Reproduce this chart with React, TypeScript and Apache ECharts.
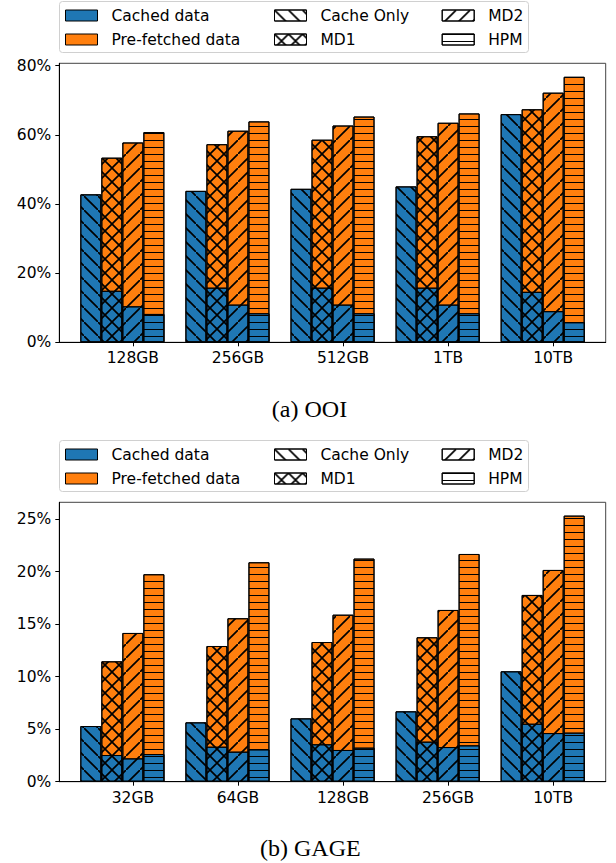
import React, { useEffect, useRef } from 'react';
import * as echarts from 'echarts';

// ---------- data ----------
const ooiCategories = ['128GB', '256GB', '512GB', '1TB', '10TB'];
const gageCategories = ['32GB', '64GB', '128GB', '256GB', '10TB'];

const ooiCacheOnly = [42.8, 43.8, 44.4, 45.1, 66.0];
const ooiMd1Cached = [14.9, 15.8, 15.8, 15.8, 14.6];
const ooiMd1Total = [53.4, 57.3, 58.6, 59.6, 67.4];
const ooiMd2Cached = [10.4, 10.9, 10.9, 10.9, 9.0];
const ooiMd2Total = [57.8, 61.2, 62.7, 63.5, 72.2];
const ooiHpmCached = [8.2, 8.4, 8.4, 8.4, 5.8];
const ooiHpmTotal = [60.8, 63.9, 65.3, 66.2, 76.8];

const gageCacheOnly = [5.3, 5.65, 6.03, 6.7, 10.51];
const gageMd1Cached = [2.54, 3.33, 3.56, 3.81, 5.52];
const gageMd1Total = [11.46, 12.92, 13.3, 13.75, 17.78];
const gageMd2Cached = [2.22, 2.86, 3.02, 3.3, 4.63];
const gageMd2Total = [14.16, 15.56, 15.9, 16.35, 20.16];
const gageHpmCached = [2.63, 3.08, 3.24, 3.46, 4.67];
const gageHpmTotal = [19.75, 20.89, 21.24, 21.68, 25.33];

const ooiYTicks = [0, 20, 40, 60, 80];
const gageYTicks = [0, 5, 10, 15, 20, 25];
const ooiYMax = 80.7;
const gageYMax = 26.6;

const methodNames = ['Cache Only', 'MD1', 'MD2', 'HPM'];
const dataNames = ['Cached data', 'Pre-fetched data'];

// ---------- styles ----------
const BLUE = '#1f77b4';
const ORANGE = '#ff7f0e';
const FONT = 'DejaVu Sans';

const diagBack = 'path://M0,0L1.2,0L14,12.8L14,14L12.8,14L0,1.2Z';
const diagFwd = 'path://M12.8,0L14,0L14,1.2L1.2,14L0,14L0,12.8Z';
const cross =
  'path://M0,0L1.2,0L14,12.8L14,14L12.8,14L0,1.2Z M12.8,0L14,0L14,1.2L1.2,14L0,14L0,12.8Z';

const decals: any[] = [
  { symbol: diagBack, dashArrayX: [14, 0], dashArrayY: [14, 0], symbolSize: 1, color: '#000', symbolKeepAspect: false },
  { symbol: cross, dashArrayX: [14, 0], dashArrayY: [14, 0], symbolSize: 1, color: '#000', symbolKeepAspect: false },
  { symbol: diagFwd, dashArrayX: [14, 0], dashArrayY: [14, 0], symbolSize: 1, color: '#000', symbolKeepAspect: false },
  { symbol: 'rect', dashArrayX: [1, 0], dashArrayY: [1, 6], symbolSize: 1, color: '#000' },
];

const offsets = [-0.4, -0.2, 0, 0.2];

function bar(gi: number, name: string, data: number[][], color: string, decal: any) {
  return {
    type: 'bar',
    name,
    xAxisIndex: gi,
    yAxisIndex: gi,
    barWidth: 21,
    barGap: '-100%',
    silent: true,
    data,
    itemStyle: { color, borderColor: '#000', borderWidth: 1, decal },
  };
}

// Total bar (orange) is drawn first, the cached part (blue) on top of it,
// which looks the same as a stacked bar.
function buildSeries(gi: number, cached: number[][], totals: (number[] | null)[]) {
  const out: any[] = [];
  cached.forEach((arr, k) => {
    const off = offsets[k];
    const tot = totals[k];
    if (tot) {
      out.push(bar(gi, `g${gi}m${k}total`, tot.map((t, i) => [i + off, t]), ORANGE, decals[k]));
    }
    out.push(bar(gi, `g${gi}m${k}cached`, arr.map((v, i) => [i + off, v]), BLUE, decals[k]));
  });
  return out;
}

function xAxis(gi: number, cats: string[]) {
  const vals = cats.map((_, i) => i);
  return {
    type: 'value',
    gridIndex: gi,
    min: -0.7,
    max: 4.5,
    splitLine: { show: false },
    axisLine: { show: true, onZero: false, lineStyle: { color: '#000', width: 1 } },
    axisTick: { show: true, customValues: vals, length: 4, lineStyle: { color: '#000' } },
    axisLabel: {
      customValues: vals,
      formatter: (v: number) => cats[Math.round(v)] ?? '',
      fontSize: 15.5,
      fontFamily: FONT,
      color: '#000',
      margin: 8,
    },
  };
}

function yAxis(gi: number, ticks: number[], max: number) {
  return {
    type: 'value',
    gridIndex: gi,
    min: 0,
    max,
    splitLine: { show: false },
    axisLine: { show: true, onZero: false, lineStyle: { color: '#000', width: 1 } },
    axisTick: { show: true, customValues: ticks, length: 4, lineStyle: { color: '#000' } },
    axisLabel: {
      customValues: ticks,
      formatter: (v: number) => `${v}%`,
      fontSize: 15.5,
      fontFamily: FONT,
      color: '#000',
      margin: 8,
    },
  };
}

function legends(top: number) {
  const base = {
    orient: 'vertical',
    selectedMode: false,
    icon: 'rect',
    itemWidth: 32,
    itemHeight: 11,
    itemGap: 8,
    padding: 0,
    top,
    itemStyle: { borderWidth: 1, borderColor: '#000' },
    textStyle: { fontSize: 15.5, fontFamily: FONT, color: '#000', padding: [0, 0, 0, 9], lineHeight: 15 },
  };
  return [
    { ...base, left: 65, data: [dataNames[0], dataNames[1]] },
    { ...base, left: 274, data: [methodNames[0], methodNames[1]] },
    { ...base, left: 441.7, data: [methodNames[2], methodNames[3]] },
  ];
}

export default function App() {
  const ref = useRef<HTMLDivElement>(null);
  useEffect(() => {
    document.body.style.margin = '0';
    if (!ref.current) return;
    const chart = echarts.init(ref.current, null, { renderer: 'svg' });

    const legendSeries: any[] = [
      bar(0, dataNames[0], [], BLUE, undefined),
      bar(0, dataNames[1], [], ORANGE, undefined),
      ...methodNames.map((n, k) => bar(0, n, [], '#fff', decals[k])),
    ];

    const series = [
      ...legendSeries,
      ...buildSeries(0, [ooiCacheOnly, ooiMd1Cached, ooiMd2Cached, ooiHpmCached], [null, ooiMd1Total, ooiMd2Total, ooiHpmTotal]),
      ...buildSeries(1, [gageCacheOnly, gageMd1Cached, gageMd2Cached, gageHpmCached], [null, gageMd1Total, gageMd2Total, gageHpmTotal]),
    ];

    const frame = (y: number) => ({
      type: 'rect',
      z: -1,
      shape: { x: 59.5, y, width: 469, height: 51, r: 3 },
      style: { fill: '#fff', stroke: '#d0d0d0', lineWidth: 1 },
    });
    const caption = (text: string, x: number, y: number) => ({
      type: 'text',
      x,
      y,
      style: {
        text,
        font: '24px "Liberation Serif"',
        fill: '#000',
        textAlign: 'center',
        align: 'center',
        textVerticalAlign: 'middle',
        verticalAlign: 'middle',
      },
    });

    chart.setOption({
      animation: false,
      backgroundColor: '#fff',
      grid: [
        { left: 59.3, top: 63.3, width: 546.4, height: 279, show: true, borderColor: '#444', borderWidth: 1 },
        { left: 59.3, top: 502.3, width: 546.4, height: 279.4, show: true, borderColor: '#444', borderWidth: 1 },
      ],
      xAxis: [xAxis(0, ooiCategories), xAxis(1, gageCategories)],
      yAxis: [yAxis(0, ooiYTicks, ooiYMax), yAxis(1, gageYTicks, gageYMax)],
      legend: [...legends(7.5), ...legends(446.5)],
      graphic: [frame(1.5), frame(440.5), caption('(a) OOI', 309.5, 409), caption('(b) GAGE', 310.3, 848)],
      series,
    });
    return () => chart.dispose();
  }, []);
  return <div ref={ref} style={{ width: 616, height: 863 }} />;
}
